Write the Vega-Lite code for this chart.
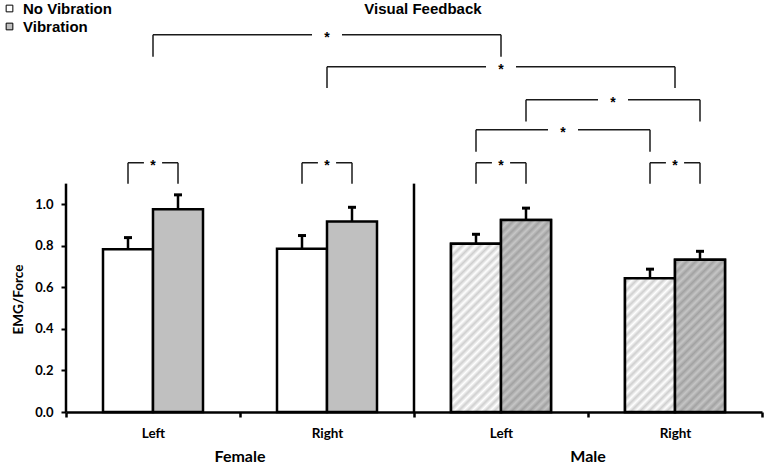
{
  "$schema": "https://vega.github.io/schema/vega-lite/v6.json",
  "width": 696,
  "height": 382,
  "autosize": {"type": "none"},
  "padding": {"left": 66, "top": 30, "right": 3, "bottom": 53},
  "background": "white",
  "config": {"view": {"stroke": null}, "font": "Lato"},
  "title": {
    "text": "Visual Feedback",
    "font": "Liberation Sans",
    "fontSize": 15,
    "fontWeight": "bold",
    "color": "black",
    "anchor": "middle",
    "frame": "group",
    "dx": 9,
    "dy": 20
  },
  "datasets": {
    "bars": [
      {"group": "Female Left", "cond": "No Vibration", "mean": 0.784, "upper": 0.84},
      {"group": "Female Left", "cond": "Vibration", "mean": 0.977, "upper": 1.046},
      {"group": "Female Right", "cond": "No Vibration", "mean": 0.786, "upper": 0.85},
      {"group": "Female Right", "cond": "Vibration", "mean": 0.917, "upper": 0.986},
      {"group": "Male Left", "cond": "No Vibration", "mean": 0.811, "upper": 0.856},
      {"group": "Male Left", "cond": "Vibration", "mean": 0.925, "upper": 0.982},
      {"group": "Male Right", "cond": "No Vibration", "mean": 0.644, "upper": 0.688},
      {"group": "Male Right", "cond": "Vibration", "mean": 0.733, "upper": 0.774}
    ],
    "legs_bar": [
      {"g": "Female Left", "c": "No Vibration", "top": 1.2, "bot": 1.1},
      {"g": "Female Left", "c": "Vibration", "top": 1.2, "bot": 1.1},
      {"g": "Female Right", "c": "No Vibration", "top": 1.2, "bot": 1.1},
      {"g": "Female Right", "c": "Vibration", "top": 1.2, "bot": 1.1},
      {"g": "Male Left", "c": "No Vibration", "top": 1.2, "bot": 1.1},
      {"g": "Male Left", "c": "Vibration", "top": 1.2, "bot": 1.1},
      {"g": "Male Right", "c": "No Vibration", "top": 1.2, "bot": 1.1},
      {"g": "Male Right", "c": "Vibration", "top": 1.2, "bot": 1.1},
      {"g": "Male Left", "c": "Vibration", "top": 1.504, "bot": 1.399},
      {"g": "Male Right", "c": "Vibration", "top": 1.504, "bot": 1.399},
      {"g": "Male Left", "c": "No Vibration", "top": 1.359, "bot": 1.254},
      {"g": "Male Right", "c": "No Vibration", "top": 1.359, "bot": 1.254}
    ],
    "legs_mid": [
      {"g": "Female Left", "top": 1.817, "bot": 1.711},
      {"g": "Male Left", "top": 1.817, "bot": 1.711},
      {"g": "Female Right", "top": 1.663, "bot": 1.561},
      {"g": "Male Right", "top": 1.663, "bot": 1.561}
    ],
    "hlines": [
      {"kind": "pair", "g1": "Female Left", "g2": "Female Left", "y": 1.2},
      {"kind": "pair", "g1": "Female Right", "g2": "Female Right", "y": 1.2},
      {"kind": "pair", "g1": "Male Left", "g2": "Male Left", "y": 1.2},
      {"kind": "pair", "g1": "Male Right", "g2": "Male Right", "y": 1.2},
      {"kind": "mid", "g1": "Female Left", "g2": "Male Left", "y": 1.817},
      {"kind": "mid", "g1": "Female Right", "g2": "Male Right", "y": 1.663},
      {"kind": "vib", "g1": "Male Left", "g2": "Male Right", "y": 1.504},
      {"kind": "novib", "g1": "Male Left", "g2": "Male Right", "y": 1.359}
    ],
    "stars": [
      {"kind": "mid", "span": "pair", "g": "Female Left", "y": 1.2},
      {"kind": "mid", "span": "pair", "g": "Female Right", "y": 1.2},
      {"kind": "mid", "span": "pair", "g": "Male Left", "y": 1.2},
      {"kind": "mid", "span": "pair", "g": "Male Right", "y": 1.2},
      {"kind": "mid", "span": "cross", "g": "Female Right", "y": 1.817},
      {"kind": "mid", "span": "cross", "g": "Male Left", "y": 1.663},
      {"kind": "vib", "span": "cross", "g": "Male Right", "y": 1.504},
      {"kind": "novib", "span": "cross", "g": "Male Left", "y": 1.359}
    ],
    "sexes": [
      {"sex": "Female", "g": "Female Left"},
      {"sex": "Male", "g": "Male Left"}
    ]
  },
  "layer": [
    {
      "data": {"name": "bars"},
      "mark": {"type": "bar", "stroke": "black", "strokeWidth": 2.5},
      "encoding": {
        "x": {
          "field": "group",
          "type": "nominal",
          "title": null,
          "scale": {"domain": ["Female Left", "Female Right", "Male Left", "Male Right"], "paddingInner": 0, "paddingOuter": 0},
          "axis": {
            "title": null,
            "domain": true,
            "domainColor": "black",
            "domainWidth": 2.5,
            "ticks": true,
            "tickBand": "extent",
            "tickColor": "black",
            "tickWidth": 2.5,
            "tickSize": 5,
            "labelExpr": "split(datum.label, ' ')[1]",
            "labelAngle": 0,
            "labelFont": "Lato",
            "labelFontWeight": "bold",
            "labelFontSize": 13.5,
            "labelColor": "black",
            "labelPadding": 9
          }
        },
        "xOffset": {
          "field": "cond",
          "type": "nominal",
          "scale": {"domain": ["No Vibration", "Vibration"], "paddingInner": 0, "paddingOuter": 0.74}
        },
        "y": {
          "field": "mean",
          "type": "quantitative",
          "scale": {"domain": [0, 1.84], "nice": false},
          "axis": {
            "values": [0, 0.2, 0.4, 0.6, 0.8, 1.0],
            "format": ".1f",
            "domain": false,
            "grid": false,
            "tickSize": 5,
            "tickWidth": 2,
            "tickColor": "black",
            "labelFont": "Lato",
            "labelFontWeight": "bold",
            "labelFontSize": 13,
            "labelColor": "black",
            "labelPadding": 8,
            "title": "EMG/Force",
            "titleFont": "Lato",
            "titleFontSize": 13.5,
            "titleFontWeight": "bold",
            "titleColor": "black",
            "titleAngle": -90,
            "titleBaseline": "middle",
            "titleX": -47.5,
            "titleY": 269
          }
        },
        "color": {
          "field": "cond",
          "type": "nominal",
          "scale": {"domain": ["No Vibration", "Vibration"], "range": ["#ffffff", "#c0c0c0"]},
          "legend": {
            "orient": "none",
            "legendX": -64,
            "legendY": -29,
            "title": null,
            "padding": 0,
            "symbolType": "square",
            "symbolSize": 45,
            "symbolStrokeWidth": 1,
            "labelFont": "Liberation Sans",
            "labelFontSize": 15,
            "labelFontWeight": "bold",
            "labelColor": "black",
            "labelOffset": 6,
            "rowPadding": 2
          }
        }
      }
    },
    {
      "data": {"name": "bars"},
      "transform": [{"filter": "datum.group == 'Male Left' && datum.cond == 'No Vibration'"}],
      "mark": {
        "type": "bar", "stroke": "black", "strokeWidth": 2.5,
        "fill": {"gradient": "linear", "x1": 0, "y1": 0, "x2": 0.3925, "y2": 1.3213, "stops": [{"offset":0,"color":"#ffffff"},{"offset":0.0185,"color":"#cfcfcf"},{"offset":0.037,"color":"#ffffff"},{"offset":0.0556,"color":"#cfcfcf"},{"offset":0.0741,"color":"#ffffff"},{"offset":0.0926,"color":"#cfcfcf"},{"offset":0.1111,"color":"#ffffff"},{"offset":0.1296,"color":"#cfcfcf"},{"offset":0.1481,"color":"#ffffff"},{"offset":0.1667,"color":"#cfcfcf"},{"offset":0.1852,"color":"#ffffff"},{"offset":0.2037,"color":"#cfcfcf"},{"offset":0.2222,"color":"#ffffff"},{"offset":0.2407,"color":"#cfcfcf"},{"offset":0.2593,"color":"#ffffff"},{"offset":0.2778,"color":"#cfcfcf"},{"offset":0.2963,"color":"#ffffff"},{"offset":0.3148,"color":"#cfcfcf"},{"offset":0.3333,"color":"#ffffff"},{"offset":0.3519,"color":"#cfcfcf"},{"offset":0.3704,"color":"#ffffff"},{"offset":0.3889,"color":"#cfcfcf"},{"offset":0.4074,"color":"#ffffff"},{"offset":0.4259,"color":"#cfcfcf"},{"offset":0.4444,"color":"#ffffff"},{"offset":0.463,"color":"#cfcfcf"},{"offset":0.4815,"color":"#ffffff"},{"offset":0.5,"color":"#cfcfcf"},{"offset":0.5185,"color":"#ffffff"},{"offset":0.537,"color":"#cfcfcf"},{"offset":0.5556,"color":"#ffffff"},{"offset":0.5741,"color":"#cfcfcf"},{"offset":0.5926,"color":"#ffffff"},{"offset":0.6111,"color":"#cfcfcf"},{"offset":0.6296,"color":"#ffffff"},{"offset":0.6481,"color":"#cfcfcf"},{"offset":0.6667,"color":"#ffffff"},{"offset":0.6852,"color":"#cfcfcf"},{"offset":0.7037,"color":"#ffffff"},{"offset":0.7222,"color":"#cfcfcf"},{"offset":0.7407,"color":"#ffffff"},{"offset":0.7593,"color":"#cfcfcf"},{"offset":0.7778,"color":"#ffffff"},{"offset":0.7963,"color":"#cfcfcf"},{"offset":0.8148,"color":"#ffffff"},{"offset":0.8333,"color":"#cfcfcf"},{"offset":0.8519,"color":"#ffffff"},{"offset":0.8704,"color":"#cfcfcf"},{"offset":0.8889,"color":"#ffffff"},{"offset":0.9074,"color":"#cfcfcf"},{"offset":0.9259,"color":"#ffffff"},{"offset":0.9444,"color":"#cfcfcf"},{"offset":0.963,"color":"#ffffff"},{"offset":0.9815,"color":"#cfcfcf"},{"offset":1,"color":"#ffffff"}]}
      },
      "encoding": {
        "x": {"field": "group", "type": "nominal", "title": null},
        "xOffset": {"field": "cond", "type": "nominal"},
        "y": {"field": "mean", "type": "quantitative"}
      }
    },
    {
      "data": {"name": "bars"},
      "transform": [{"filter": "datum.group == 'Male Right' && datum.cond == 'No Vibration'"}],
      "mark": {
        "type": "bar", "stroke": "black", "strokeWidth": 2.5,
        "fill": {"gradient": "linear", "x1": 0, "y1": 0, "x2": 0.5939, "y2": 1.588, "stops": [{"offset":0,"color":"#ffffff"},{"offset":0.0185,"color":"#cfcfcf"},{"offset":0.037,"color":"#ffffff"},{"offset":0.0556,"color":"#cfcfcf"},{"offset":0.0741,"color":"#ffffff"},{"offset":0.0926,"color":"#cfcfcf"},{"offset":0.1111,"color":"#ffffff"},{"offset":0.1296,"color":"#cfcfcf"},{"offset":0.1481,"color":"#ffffff"},{"offset":0.1667,"color":"#cfcfcf"},{"offset":0.1852,"color":"#ffffff"},{"offset":0.2037,"color":"#cfcfcf"},{"offset":0.2222,"color":"#ffffff"},{"offset":0.2407,"color":"#cfcfcf"},{"offset":0.2593,"color":"#ffffff"},{"offset":0.2778,"color":"#cfcfcf"},{"offset":0.2963,"color":"#ffffff"},{"offset":0.3148,"color":"#cfcfcf"},{"offset":0.3333,"color":"#ffffff"},{"offset":0.3519,"color":"#cfcfcf"},{"offset":0.3704,"color":"#ffffff"},{"offset":0.3889,"color":"#cfcfcf"},{"offset":0.4074,"color":"#ffffff"},{"offset":0.4259,"color":"#cfcfcf"},{"offset":0.4444,"color":"#ffffff"},{"offset":0.463,"color":"#cfcfcf"},{"offset":0.4815,"color":"#ffffff"},{"offset":0.5,"color":"#cfcfcf"},{"offset":0.5185,"color":"#ffffff"},{"offset":0.537,"color":"#cfcfcf"},{"offset":0.5556,"color":"#ffffff"},{"offset":0.5741,"color":"#cfcfcf"},{"offset":0.5926,"color":"#ffffff"},{"offset":0.6111,"color":"#cfcfcf"},{"offset":0.6296,"color":"#ffffff"},{"offset":0.6481,"color":"#cfcfcf"},{"offset":0.6667,"color":"#ffffff"},{"offset":0.6852,"color":"#cfcfcf"},{"offset":0.7037,"color":"#ffffff"},{"offset":0.7222,"color":"#cfcfcf"},{"offset":0.7407,"color":"#ffffff"},{"offset":0.7593,"color":"#cfcfcf"},{"offset":0.7778,"color":"#ffffff"},{"offset":0.7963,"color":"#cfcfcf"},{"offset":0.8148,"color":"#ffffff"},{"offset":0.8333,"color":"#cfcfcf"},{"offset":0.8519,"color":"#ffffff"},{"offset":0.8704,"color":"#cfcfcf"},{"offset":0.8889,"color":"#ffffff"},{"offset":0.9074,"color":"#cfcfcf"},{"offset":0.9259,"color":"#ffffff"},{"offset":0.9444,"color":"#cfcfcf"},{"offset":0.963,"color":"#ffffff"},{"offset":0.9815,"color":"#cfcfcf"},{"offset":1,"color":"#ffffff"}]}
      },
      "encoding": {
        "x": {"field": "group", "type": "nominal", "title": null},
        "xOffset": {"field": "cond", "type": "nominal"},
        "y": {"field": "mean", "type": "quantitative"}
      }
    },
    {
      "data": {"name": "bars"},
      "transform": [{"filter": "datum.group == 'Male Left' && datum.cond == 'Vibration'"}],
      "mark": {
        "type": "bar", "stroke": "black", "strokeWidth": 2.5,
        "fill": {"gradient": "linear", "x1": 0, "y1": 0, "x2": 0.3077, "y2": 1.1809, "stops": [{"offset":0,"color":"#c6c6c6"},{"offset":0.0185,"color":"#a2a2a2"},{"offset":0.037,"color":"#c6c6c6"},{"offset":0.0556,"color":"#a2a2a2"},{"offset":0.0741,"color":"#c6c6c6"},{"offset":0.0926,"color":"#a2a2a2"},{"offset":0.1111,"color":"#c6c6c6"},{"offset":0.1296,"color":"#a2a2a2"},{"offset":0.1481,"color":"#c6c6c6"},{"offset":0.1667,"color":"#a2a2a2"},{"offset":0.1852,"color":"#c6c6c6"},{"offset":0.2037,"color":"#a2a2a2"},{"offset":0.2222,"color":"#c6c6c6"},{"offset":0.2407,"color":"#a2a2a2"},{"offset":0.2593,"color":"#c6c6c6"},{"offset":0.2778,"color":"#a2a2a2"},{"offset":0.2963,"color":"#c6c6c6"},{"offset":0.3148,"color":"#a2a2a2"},{"offset":0.3333,"color":"#c6c6c6"},{"offset":0.3519,"color":"#a2a2a2"},{"offset":0.3704,"color":"#c6c6c6"},{"offset":0.3889,"color":"#a2a2a2"},{"offset":0.4074,"color":"#c6c6c6"},{"offset":0.4259,"color":"#a2a2a2"},{"offset":0.4444,"color":"#c6c6c6"},{"offset":0.463,"color":"#a2a2a2"},{"offset":0.4815,"color":"#c6c6c6"},{"offset":0.5,"color":"#a2a2a2"},{"offset":0.5185,"color":"#c6c6c6"},{"offset":0.537,"color":"#a2a2a2"},{"offset":0.5556,"color":"#c6c6c6"},{"offset":0.5741,"color":"#a2a2a2"},{"offset":0.5926,"color":"#c6c6c6"},{"offset":0.6111,"color":"#a2a2a2"},{"offset":0.6296,"color":"#c6c6c6"},{"offset":0.6481,"color":"#a2a2a2"},{"offset":0.6667,"color":"#c6c6c6"},{"offset":0.6852,"color":"#a2a2a2"},{"offset":0.7037,"color":"#c6c6c6"},{"offset":0.7222,"color":"#a2a2a2"},{"offset":0.7407,"color":"#c6c6c6"},{"offset":0.7593,"color":"#a2a2a2"},{"offset":0.7778,"color":"#c6c6c6"},{"offset":0.7963,"color":"#a2a2a2"},{"offset":0.8148,"color":"#c6c6c6"},{"offset":0.8333,"color":"#a2a2a2"},{"offset":0.8519,"color":"#c6c6c6"},{"offset":0.8704,"color":"#a2a2a2"},{"offset":0.8889,"color":"#c6c6c6"},{"offset":0.9074,"color":"#a2a2a2"},{"offset":0.9259,"color":"#c6c6c6"},{"offset":0.9444,"color":"#a2a2a2"},{"offset":0.963,"color":"#c6c6c6"},{"offset":0.9815,"color":"#a2a2a2"},{"offset":1,"color":"#c6c6c6"}]}
      },
      "encoding": {
        "x": {"field": "group", "type": "nominal", "title": null},
        "xOffset": {"field": "cond", "type": "nominal"},
        "y": {"field": "mean", "type": "quantitative"}
      }
    },
    {
      "data": {"name": "bars"},
      "transform": [{"filter": "datum.group == 'Male Right' && datum.cond == 'Vibration'"}],
      "mark": {
        "type": "bar", "stroke": "black", "strokeWidth": 2.5,
        "fill": {"gradient": "linear", "x1": 0, "y1": 0, "x2": 0.472, "y2": 1.4359, "stops": [{"offset":0,"color":"#c6c6c6"},{"offset":0.0185,"color":"#a2a2a2"},{"offset":0.037,"color":"#c6c6c6"},{"offset":0.0556,"color":"#a2a2a2"},{"offset":0.0741,"color":"#c6c6c6"},{"offset":0.0926,"color":"#a2a2a2"},{"offset":0.1111,"color":"#c6c6c6"},{"offset":0.1296,"color":"#a2a2a2"},{"offset":0.1481,"color":"#c6c6c6"},{"offset":0.1667,"color":"#a2a2a2"},{"offset":0.1852,"color":"#c6c6c6"},{"offset":0.2037,"color":"#a2a2a2"},{"offset":0.2222,"color":"#c6c6c6"},{"offset":0.2407,"color":"#a2a2a2"},{"offset":0.2593,"color":"#c6c6c6"},{"offset":0.2778,"color":"#a2a2a2"},{"offset":0.2963,"color":"#c6c6c6"},{"offset":0.3148,"color":"#a2a2a2"},{"offset":0.3333,"color":"#c6c6c6"},{"offset":0.3519,"color":"#a2a2a2"},{"offset":0.3704,"color":"#c6c6c6"},{"offset":0.3889,"color":"#a2a2a2"},{"offset":0.4074,"color":"#c6c6c6"},{"offset":0.4259,"color":"#a2a2a2"},{"offset":0.4444,"color":"#c6c6c6"},{"offset":0.463,"color":"#a2a2a2"},{"offset":0.4815,"color":"#c6c6c6"},{"offset":0.5,"color":"#a2a2a2"},{"offset":0.5185,"color":"#c6c6c6"},{"offset":0.537,"color":"#a2a2a2"},{"offset":0.5556,"color":"#c6c6c6"},{"offset":0.5741,"color":"#a2a2a2"},{"offset":0.5926,"color":"#c6c6c6"},{"offset":0.6111,"color":"#a2a2a2"},{"offset":0.6296,"color":"#c6c6c6"},{"offset":0.6481,"color":"#a2a2a2"},{"offset":0.6667,"color":"#c6c6c6"},{"offset":0.6852,"color":"#a2a2a2"},{"offset":0.7037,"color":"#c6c6c6"},{"offset":0.7222,"color":"#a2a2a2"},{"offset":0.7407,"color":"#c6c6c6"},{"offset":0.7593,"color":"#a2a2a2"},{"offset":0.7778,"color":"#c6c6c6"},{"offset":0.7963,"color":"#a2a2a2"},{"offset":0.8148,"color":"#c6c6c6"},{"offset":0.8333,"color":"#a2a2a2"},{"offset":0.8519,"color":"#c6c6c6"},{"offset":0.8704,"color":"#a2a2a2"},{"offset":0.8889,"color":"#c6c6c6"},{"offset":0.9074,"color":"#a2a2a2"},{"offset":0.9259,"color":"#c6c6c6"},{"offset":0.9444,"color":"#a2a2a2"},{"offset":0.963,"color":"#c6c6c6"},{"offset":0.9815,"color":"#a2a2a2"},{"offset":1,"color":"#c6c6c6"}]}
      },
      "encoding": {
        "x": {"field": "group", "type": "nominal", "title": null},
        "xOffset": {"field": "cond", "type": "nominal"},
        "y": {"field": "mean", "type": "quantitative"}
      }
    },
    {
      "data": {"name": "bars"},
      "mark": {"type": "rule", "color": "black", "strokeWidth": 2.5},
      "encoding": {
        "x": {"field": "group", "type": "nominal", "title": null},
        "xOffset": {"field": "cond", "type": "nominal"},
        "y": {"field": "mean", "type": "quantitative"},
        "y2": {"field": "upper"}
      }
    },
    {
      "data": {"name": "bars"},
      "mark": {"type": "tick", "orient": "horizontal", "size": 8, "thickness": 3, "color": "black", "opacity": 1},
      "encoding": {
        "x": {"field": "group", "type": "nominal", "title": null},
        "xOffset": {"field": "cond", "type": "nominal"},
        "y": {"field": "upper", "type": "quantitative"}
      }
    },
    {
      "data": {"values": [{"at": "Female Left"}, {"at": "Male Left"}]},
      "mark": {"type": "rule", "color": "black", "strokeWidth": 2.5},
      "encoding": {
        "x": {"field": "at", "type": "nominal", "bandPosition": 0, "title": null},
        "y": {"datum": 0},
        "y2": {"datum": 1.1}
      }
    },
    {
      "data": {"name": "hlines"},
      "transform": [{"filter": "datum.kind == 'pair'"}],
      "mark": {"type": "rule", "color": "#1a1a1a", "strokeWidth": 1.5},
      "encoding": {
        "x": {"field": "g1", "type": "nominal", "bandPosition": 0.3563, "title": null},
        "x2": {"field": "g2", "bandPosition": 0.6437},
        "y": {"field": "y", "type": "quantitative"}
      }
    },
    {
      "data": {"name": "hlines"},
      "transform": [{"filter": "datum.kind == 'mid'"}],
      "mark": {"type": "rule", "color": "#1a1a1a", "strokeWidth": 1.5},
      "encoding": {
        "x": {"field": "g1", "type": "nominal", "bandPosition": 0.5, "title": null},
        "x2": {"field": "g2", "bandPosition": 0.5},
        "y": {"field": "y", "type": "quantitative"}
      }
    },
    {
      "data": {"name": "hlines"},
      "transform": [{"filter": "datum.kind == 'vib'"}],
      "mark": {"type": "rule", "color": "#1a1a1a", "strokeWidth": 1.5},
      "encoding": {
        "x": {"field": "g1", "type": "nominal", "bandPosition": 0.6437, "title": null},
        "x2": {"field": "g2", "bandPosition": 0.6437},
        "y": {"field": "y", "type": "quantitative"}
      }
    },
    {
      "data": {"name": "hlines"},
      "transform": [{"filter": "datum.kind == 'novib'"}],
      "mark": {"type": "rule", "color": "#1a1a1a", "strokeWidth": 1.5},
      "encoding": {
        "x": {"field": "g1", "type": "nominal", "bandPosition": 0.3563, "title": null},
        "x2": {"field": "g2", "bandPosition": 0.3563},
        "y": {"field": "y", "type": "quantitative"}
      }
    },
    {
      "data": {"name": "legs_bar"},
      "mark": {"type": "rule", "color": "#1a1a1a", "strokeWidth": 1.5},
      "encoding": {
        "x": {"field": "g", "type": "nominal", "title": null},
        "xOffset": {"field": "c", "type": "nominal"},
        "y": {"field": "top", "type": "quantitative"},
        "y2": {"field": "bot"}
      }
    },
    {
      "data": {"name": "legs_mid"},
      "mark": {"type": "rule", "color": "#1a1a1a", "strokeWidth": 1.5},
      "encoding": {
        "x": {"field": "g", "type": "nominal", "title": null},
        "y": {"field": "top", "type": "quantitative"},
        "y2": {"field": "bot"}
      }
    },
    {
      "data": {"name": "stars"},
      "transform": [{"filter": "datum.kind == 'mid'"}],
      "encoding": {
        "x": {"field": "g", "type": "nominal", "bandPosition": 0.5, "title": null},
        "y": {"field": "y", "type": "quantitative"}
      },
      "layer": [
        {
          "mark": {"type": "point", "shape": "M-1,-0.35H1V0.35H-1Z", "filled": true, "color": "white", "opacity": 1, "strokeWidth": 0},
          "encoding": {"size": {"field": "span", "type": "nominal", "scale": {"domain": ["pair", "cross"], "range": [330, 900]}, "legend": null}}
        },
        {
          "mark": {"type": "text", "text": "*", "font": "Liberation Sans", "fontSize": 14, "fontWeight": "bold", "color": "black", "baseline": "middle", "dy": 3}
        }
      ]
    },
    {
      "data": {"name": "stars"},
      "transform": [{"filter": "datum.kind == 'vib'"}],
      "encoding": {
        "x": {"field": "g", "type": "nominal", "bandPosition": 0.1437, "title": null},
        "y": {"field": "y", "type": "quantitative"}
      },
      "layer": [
        {
          "mark": {"type": "point", "shape": "M-1,-0.35H1V0.35H-1Z", "filled": true, "color": "white", "opacity": 1, "strokeWidth": 0},
          "encoding": {"size": {"field": "span", "type": "nominal", "scale": {"domain": ["pair", "cross"], "range": [330, 900]}, "legend": null}}
        },
        {
          "mark": {"type": "text", "text": "*", "font": "Liberation Sans", "fontSize": 14, "fontWeight": "bold", "color": "black", "baseline": "middle", "dy": 3}
        }
      ]
    },
    {
      "data": {"name": "stars"},
      "transform": [{"filter": "datum.kind == 'novib'"}],
      "encoding": {
        "x": {"field": "g", "type": "nominal", "bandPosition": 0.8563, "title": null},
        "y": {"field": "y", "type": "quantitative"}
      },
      "layer": [
        {
          "mark": {"type": "point", "shape": "M-1,-0.35H1V0.35H-1Z", "filled": true, "color": "white", "opacity": 1, "strokeWidth": 0},
          "encoding": {"size": {"field": "span", "type": "nominal", "scale": {"domain": ["pair", "cross"], "range": [330, 900]}, "legend": null}}
        },
        {
          "mark": {"type": "text", "text": "*", "font": "Liberation Sans", "fontSize": 14, "fontWeight": "bold", "color": "black", "baseline": "middle", "dy": 3}
        }
      ]
    },
    {
      "data": {"name": "sexes"},
      "mark": {"type": "text", "font": "Lato", "fontSize": 16, "fontWeight": "bold", "color": "black", "baseline": "middle"},
      "encoding": {
        "x": {"field": "g", "type": "nominal", "bandPosition": 1, "title": null},
        "y": {"datum": -0.217},
        "text": {"field": "sex", "type": "nominal"}
      }
    }
  ]
}
